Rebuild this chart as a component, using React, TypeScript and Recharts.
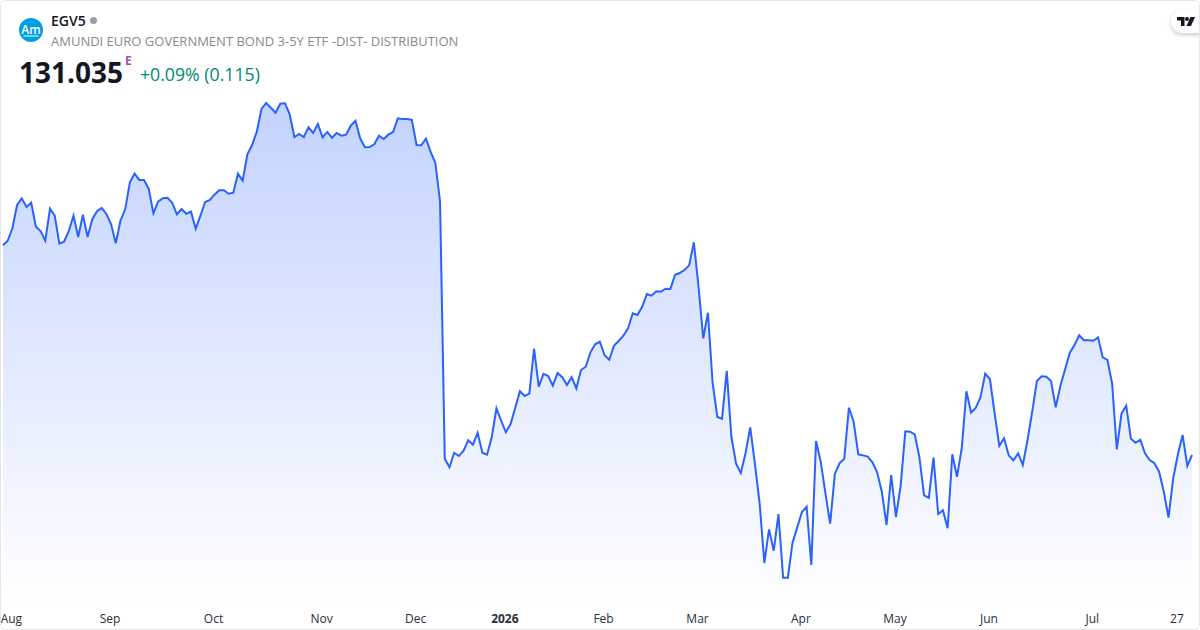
import { AreaChart, Area, XAxis, YAxis } from "recharts";

// daily closes
const closes = [
  133.447, 133.499, 133.642, 133.91, 133.987, 133.887, 133.936, 133.66, 133.611, 133.499,
  133.867, 133.787, 133.465, 133.488, 133.611, 133.787, 133.542, 133.798, 133.542, 133.746,
  133.838, 133.876, 133.807, 133.688, 133.47, 133.73, 133.861, 134.171, 134.27, 134.198,
  134.198, 134.098, 133.815, 133.948, 133.987, 133.994, 133.936, 133.803, 133.864, 133.81,
  133.833, 133.638, 133.784, 133.945, 133.968, 134.029, 134.079, 134.079, 134.04, 134.052,
  134.27, 134.19, 134.493, 134.6, 134.753, 135.014, 135.083, 135.029, 134.971, 135.075,
  135.08, 134.953, 134.692, 134.727, 134.692, 134.804, 134.738, 134.842, 134.689, 134.75,
  134.684, 134.738, 134.707, 134.719, 134.822, 134.88, 134.677, 134.574, 134.577, 134.608,
  134.707, 134.669, 134.719, 134.75, 134.907, 134.899, 134.899, 134.888, 134.6, 134.597,
  134.673, 134.52, 134.393, 133.948, 130.992, 130.893, 131.061, 131.023, 131.084, 131.204,
  131.153, 131.291, 131.061, 131.038, 131.239, 131.572, 131.429, 131.296, 131.391, 131.579,
  131.768, 131.714, 131.74, 132.257, 131.82, 131.967, 131.943, 131.832, 131.978, 131.929,
  131.84, 131.929, 131.802, 132.012, 132.05, 132.216, 132.308, 132.338, 132.182, 132.131,
  132.292, 132.346, 132.407, 132.492, 132.665, 132.645, 132.74, 132.886, 132.867, 132.917,
  132.913, 132.947, 132.944, 133.108, 133.128, 133.162, 133.216, 133.481, 132.97, 132.377,
  132.671, 131.86, 131.472, 131.452, 132.004, 131.239, 130.931, 130.828, 131.055, 131.353,
  130.931, 130.48, 129.793, 130.18, 129.934, 130.356, 129.624, 129.624, 130.026, 130.203,
  130.379, 130.44, 129.77, 131.196, 130.958, 130.594, 130.245, 130.817, 130.94, 130.992,
  131.579, 131.418, 131.043, 131.031, 131.016, 130.951, 130.836, 130.613, 130.23, 130.805,
  130.322, 130.679, 131.308, 131.303, 131.273, 131.008, 130.572, 130.541, 131.004, 130.356,
  130.399, 130.192, 131.043, 130.785, 131.112, 131.768, 131.522, 131.579, 131.699, 131.97,
  131.909, 131.515, 131.139, 131.227, 131.031, 130.974, 131.055, 130.92, 131.208, 131.533,
  131.886, 131.94, 131.935, 131.886, 131.584, 131.832, 132.021, 132.211, 132.3, 132.412,
  132.354, 132.354, 132.349, 132.388, 132.159, 132.128, 131.86, 131.1, 131.51, 131.602,
  131.222, 131.176, 131.211, 131.055, 130.978, 130.94, 130.843, 130.613, 130.314, 130.767,
  131.043, 131.265, 130.909, 131.035,
];

const tickIndices = [2, 23, 45, 68, 88, 107, 128, 148, 170, 190, 210, 232, 250];
const tickLabels = ["Aug", "Sep", "Oct", "Nov", "Dec", "2026", "Feb", "Mar", "Apr", "May", "Jun", "Jul", "27"];

const chartData = closes.map((close, day) => ({ day, close }));
const font = "'Open Sans', sans-serif";

function MonthTick({ x, y, payload }: any) {
  const label = tickLabels[tickIndices.indexOf(payload.value)];
  return (
    <text
      x={x - 1}
      y={y + 9.5}
      textAnchor="middle"
      fontFamily={font}
      fontSize={12}
      fontWeight={label === "2026" ? 700 : 400}
      fill="#2a2e39"
    >
      {label}
    </text>
  );
}

export default function App() {
  return (
    <div
      style={{
        position: "fixed",
        left: 0,
        top: 0,
        width: 1200,
        height: 630,
        background: "#fff",
        overflow: "hidden",
        fontFamily: font,
      }}
    >
      <AreaChart
        width={1200}
        height={630}
        data={chartData}
        margin={{ top: 0, right: 8, left: 3, bottom: 0 }}
      >
        <defs>
          <linearGradient id="priceFill" x1="0" y1="0" x2="0" y2="1">
            <stop offset="0%" stopColor="#2962ff" stopOpacity={0.28} />
            <stop offset="100%" stopColor="#2962ff" stopOpacity={0} />
          </linearGradient>
        </defs>
        <XAxis
          dataKey="day"
          type="number"
          domain={[0, 253]}
          ticks={tickIndices}
          interval={0}
          axisLine={false}
          tickLine={false}
          height={25}
          tick={<MonthTick />}
        />
        <YAxis hide domain={[129.31, 136.2675]} allowDataOverflow />
        <Area
          type="linear"
          dataKey="close"
          stroke="#2962ff"
          strokeWidth={2}
          fill="url(#priceFill)"
          fillOpacity={1}
          isAnimationActive={false}
          dot={false}
          activeDot={false}
        />
      </AreaChart>

      {/* Header */}
      <svg width={24} height={24} style={{ position: "absolute", left: 19, top: 18 }}>
        <circle cx={12} cy={12} r={12} fill="#009fe3" />
        <text x={12} y={15.5} textAnchor="middle" fontFamily={font} fontSize={12} fontWeight={600} fill="#fff">
          Am
        </text>
        <rect x={4.5} y={17.5} width={15} height={1} fill="#fff" />
      </svg>
      <div style={{ position: "absolute", left: 51, top: 12, fontSize: 14, lineHeight: "18px", fontWeight: 600, color: "#131722" }}>
        EGV5
      </div>
      <div style={{ position: "absolute", left: 90, top: 17, width: 7, height: 7, borderRadius: 4, background: "#9e9e9e" }} />
      <div style={{ position: "absolute", left: 51, top: 32, fontSize: 13, lineHeight: "18px", color: "#8a8a8a", whiteSpace: "nowrap" }}>
        AMUNDI EURO GOVERNMENT BOND 3-5Y ETF -DIST- DISTRIBUTION
      </div>
      <div style={{ position: "absolute", left: 19, top: 53, fontSize: 28, lineHeight: "38px", fontWeight: 700, color: "#131722" }}>
        131.035
      </div>
      <div style={{ position: "absolute", left: 125, top: 53, fontSize: 12, lineHeight: "16px", fontWeight: 700, color: "#ab47bc" }}>
        E
      </div>
      <div style={{ position: "absolute", left: 140, top: 61, fontSize: 17.7, lineHeight: "26px", color: "#008a70", whiteSpace: "nowrap" }}>
        +0.09% (0.115)
      </div>

      {/* Logo badge */}
      <div
        style={{
          position: "absolute",
          left: 1171,
          top: 10,
          width: 40,
          height: 23,
          borderRadius: 12,
          background: "#fff",
          boxShadow: "0 2px 4px rgba(0,0,0,0.2)",
        }}
      />
      <svg width={18} height={11} viewBox="0 0 36 22" style={{ position: "absolute", left: 1177, top: 16 }}>
        <path d="M0 2h15v18H8V9H0z" fill="#131722" />
        <circle cx={20} cy={6} r={4} fill="#131722" />
        <path d="M27 2h9l-8 18h-9z" fill="#131722" />
      </svg>

      {/* Card border */}
      <div
        style={{
          position: "absolute",
          left: 0,
          top: 0,
          width: 1198,
          height: 628,
          border: "1px solid #e6e6e6",
          borderRadius: 6,
          pointerEvents: "none",
        }}
      />
    </div>
  );
}
